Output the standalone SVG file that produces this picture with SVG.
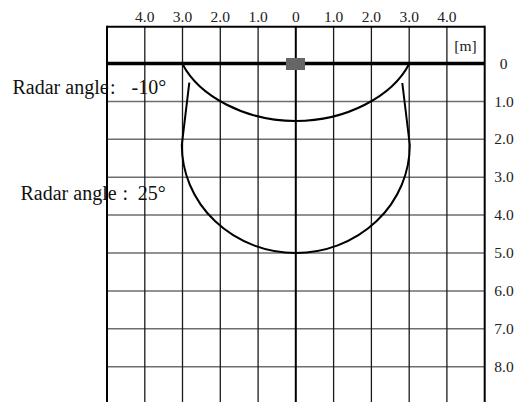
<svg xmlns="http://www.w3.org/2000/svg" width="519" height="402" viewBox="0 0 519 402">
<style>
.hg{stroke:#6e6e6e;stroke-width:1.5;fill:none}
.vg{stroke:#1a1a1a;stroke-width:1.3;fill:none}
.bd{stroke:#000;stroke-width:2;fill:none}
.ax{stroke:#000;stroke-width:3.4;fill:none}
.cv{stroke:#000;stroke-width:2;fill:none}
.lb{font-family:"Liberation Serif","Times New Roman",serif;font-size:15.5px;fill:#222;text-anchor:middle}
.rl{font-family:"Liberation Serif","Times New Roman",serif;font-size:20px;fill:#111}
</style>
<rect width="519" height="402" fill="#fff"/>
<g id="grid">
<g class="hg">
<line x1="107" y1="101.4" x2="484.7" y2="101.4"/>
<line x1="107" y1="139.3" x2="484.7" y2="139.3"/>
<line x1="107" y1="177.2" x2="484.7" y2="177.2"/>
<line x1="107" y1="215.1" x2="484.7" y2="215.1"/>
<line x1="107" y1="253" x2="484.7" y2="253"/>
<line x1="107" y1="290.9" x2="484.7" y2="290.9"/>
<line x1="107" y1="328.8" x2="484.7" y2="328.8"/>
<line x1="107" y1="366.7" x2="484.7" y2="366.7"/>
</g>
<g class="vg">
<line x1="144.8" y1="26.7" x2="144.8" y2="402"/>
<line x1="182.5" y1="26.7" x2="182.5" y2="402"/>
<line x1="220.3" y1="26.7" x2="220.3" y2="402"/>
<line x1="258.1" y1="26.7" x2="258.1" y2="402"/>
<line x1="333.6" y1="26.7" x2="333.6" y2="402"/>
<line x1="371.4" y1="26.7" x2="371.4" y2="402"/>
<line x1="409.2" y1="26.7" x2="409.2" y2="402"/>
<line x1="446.9" y1="26.7" x2="446.9" y2="402"/>
</g>
<line class="bd" x1="295.8" y1="26.7" x2="295.8" y2="402"/>
<line class="bd" x1="107" y1="26.7" x2="484.7" y2="26.7"/>
<line class="bd" x1="107" y1="25.7" x2="107" y2="402"/>
<line class="bd" x1="484.7" y1="25.7" x2="484.7" y2="402"/>
<line class="ax" x1="107" y1="63.5" x2="484.7" y2="63.5"/>
</g>
<g id="sensor">
<rect x="286" y="58" width="19" height="12" fill="#666"/>
</g>
<g id="top-labels" class="lb">
<text x="144.8" y="21.5">4.0</text>
<text x="182.5" y="21.5">3.0</text>
<text x="220.3" y="21.5">2.0</text>
<text x="258.1" y="21.5">1.0</text>
<text x="295.8" y="21.5">0</text>
<text x="333.6" y="21.5">1.0</text>
<text x="371.4" y="21.5">2.0</text>
<text x="409.2" y="21.5">3.0</text>
<text x="446.9" y="21.5">4.0</text>
<text x="465.5" y="50.5">[m]</text>
</g>
<g id="right-labels" class="lb">
<text x="503.5" y="68.5">0</text>
<text x="504" y="106.5">1.0</text>
<text x="504" y="144.4">2.0</text>
<text x="504" y="182.3">3.0</text>
<text x="504" y="220.2">4.0</text>
<text x="504" y="258.1">5.0</text>
<text x="504" y="296">6.0</text>
<text x="504" y="333.9">7.0</text>
<text x="504" y="371.8">8.0</text>
</g>
<g id="curves">
<path id="curve-m10" class="cv" d="M182.5,64 C199,96 245,121 295.8,121 C346.6,121 392.6,96 409.1,64"/>
<path id="curve-25" class="cv" d="M189.3,82.7 L181.8,145 A114,108 0 0 0 409.8,145 L402.3,83"/>
</g>
<g id="label-m10">
<text class="rl" x="12.5" y="94">Radar angle<tspan x="110">:</tspan><tspan x="131.5">-10°</tspan></text>
</g>
<g id="label-25">
<text class="rl" x="20.5" y="200">Radar angle<tspan x="122.5">:</tspan><tspan x="137.7">25°</tspan></text>
</g>
</svg>
